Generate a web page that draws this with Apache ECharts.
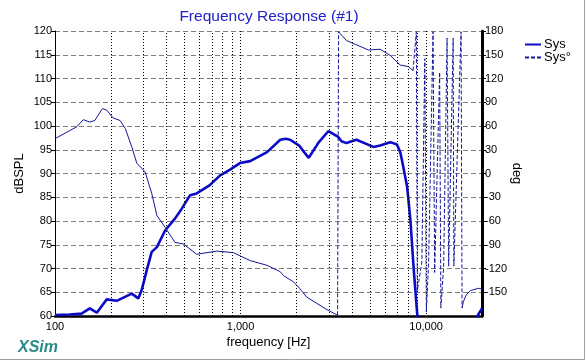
<!DOCTYPE html>
<html>
<head>
<meta charset="utf-8">
<script src="https://cdn.jsdelivr.net/npm/echarts@6/dist/echarts.min.js"></script>
<style>
html,body{margin:0;padding:0;background:#fff;}
#chart{width:587px;height:364px;}
</style>
</head>
<body>
<div id="chart"></div>
<script>
// ---- data ----
const magFreq = [100,120,139,154,168,190,215,259,281,293,312,332,354,392,443,482,534,580,680,776,878,992,1127,1389,1636,1750,1850,2078,2200,2330,2630,2970,3360,3500,3720,4210,5200,5650,6410,6960,7250,7410,7900,8230,8580,8950,9300,12000,17000,18900,20000];
const magDb   = [60.2,60.3,60.5,61.6,60.7,63.5,63.2,64.7,63.7,65.4,69.6,73.5,74.5,78.0,80.5,82.6,85.4,85.8,87.5,89.6,90.8,92.2,92.6,94.5,97.1,97.3,97.1,95.8,94.5,93.3,96.5,98.9,97.7,96.8,96.4,97.1,95.6,95.9,96.6,96.1,94.5,92.8,87.2,80.1,69.6,60.5,56,50,55,60,61.6];

const phaseFreq = [100,131,142,154,164,180,190,206,224,239,259,276,306,332,354,392,443,492,580,745,915,1127,1389,1636,1705,1930,2078,2270,2920,3332,3374,3720,4890,5650,6410,7250,8030,8499,8855,8966,9480,9840,10025,10315,10895,11115,11826,12004,12429,12966,13226,13985,14107,15425,15618,15872,16475,17313,19120,20000];
const phaseDeg  = [44,59,68,65,67,82,80,70,67,57,34,13,2,-25,-53,-68,-87,-89,-102,-98,-100,-110,-116,-124,-129,-137,-145,-156,-172,-179,179,168,156,157,149,137,135,130,179,-148,-112,145,-175,-112,179,-125,128,-170,-117,171,-117,171,-117,179,-170,-162,-153,-148,-145,-146];
// frequency bands (Hz) where the phase trace is drawn dashed (wraps / rapid rotation)
const dashedBands = [[3332,3374],[8499,15618]];

const dbTicks = {min:60, max:120, step:5};
const degTicks = {min:-180, max:180, step:30};
const minorFreqLines = [200,300,400,500,600,700,800,900,2000,3000,4000,5000,6000,7000,8000,9000];

// ---- build series data ----
const magData = magFreq.map((f,i)=>[f, magDb[i]]);
function inBand(a,b){ return dashedBands.some(r=>a>=r[0] && b<=r[1]); }
const solid = [], dashed = [];
for (let i=0;i<phaseFreq.length;i++){
  const p = [phaseFreq[i], phaseDeg[i]];
  solid.push(p);
  if (i < phaseFreq.length-1){
    const d = inBand(phaseFreq[i], phaseFreq[i+1]);
    if (d){
      solid.push([phaseFreq[i], null]);
      const last = dashed[dashed.length-1];
      if (!last || last[0]!==phaseFreq[i] || last[1]!==phaseDeg[i]){
        if (dashed.length) dashed.push([phaseFreq[i], null]);
        dashed.push(p);
      }
      dashed.push([phaseFreq[i+1], phaseDeg[i+1]]);
    }
  }
}

const FONT = 'Liberation Sans, Arial, sans-serif';
const chart = echarts.init(document.getElementById('chart'), null, {renderer:'canvas'});
const option = {
  animation: false,
  backgroundColor: '#fff',
  textStyle: {fontFamily: FONT},
  grid: {left:55, right:105, top:31, bottom:48},
  legend: {
    data: ['Sys','Sys°'],
    orient: 'vertical',
    left: 524, top: 38, padding: 0,
    itemWidth: 16, itemHeight: 10, itemGap: 0,
    itemStyle: {color:'rgba(0,0,0,0)', borderWidth:0, opacity:0},
    textStyle: {fontSize: 13, color:'#000', fontFamily: FONT, padding:[0,0,0,-2]},
    selectedMode: false
  },
  xAxis: {
    type: 'log', logBase: 10, min: 100, max: 20000,
    name: 'frequency [Hz]', nameLocation: 'middle', nameGap: 20, nameMoveOverlap: false,
    nameTextStyle: {fontSize: 13, color:'#000', fontFamily: FONT},
    axisLine: {show:true, onZero:false, lineStyle:{color:'#000', width:2.5}},
    axisTick: {show:false},
    axisLabel: {color:'#000', fontSize: 11, margin: 5, showMaxLabel:false,
      formatter: v => Number(v).toLocaleString('en-US')},
    splitLine: {show:true, lineStyle:{color:'#000', type:[1,2], width:1}},
    minorSplitLine: {show:false}
  },
  yAxis: [{
    type: 'value', min: dbTicks.min, max: dbTicks.max, interval: dbTicks.step,
    position: 'left',
    name: 'dBSPL', nameLocation: 'middle', nameGap: 29, nameMoveOverlap: false,
    nameTextStyle: {fontSize: 13, color:'#000', fontFamily: FONT},
    axisLine: {show:true, lineStyle:{color:'#000', width:1}},
    axisTick: {show:true, length:4, lineStyle:{color:'#000'}},
    axisLabel: {color:'#000', fontSize: 11, margin: 3},
    splitLine: {show:true, lineStyle:{color:'#808080', type:[5,3], width:1}}
  },{
    type: 'value', min: degTicks.min, max: degTicks.max, interval: degTicks.step,
    position: 'right',
    name: 'deg', nameLocation: 'middle', nameGap: 28, nameRotate: -90, nameMoveOverlap: false,
    nameTextStyle: {fontSize: 13, color:'#000', fontFamily: FONT},
    axisLine: {show:true, lineStyle:{color:'#000', width:3}},
    axisTick: {show:true, length:4, lineStyle:{color:'#000'}},
    axisLabel: {color:'#000', fontSize: 11, margin: 3, showMinLabel:false},
    splitLine: {show:false}
  }],
  series: [
    {
      name: 'gridlines', type: 'line', data: [], yAxisIndex: 0, silent: true,
      markLine: {
        silent: true, symbol: ['none','none'], label:{show:false},
        lineStyle: {color:'#000', type:[1,2], width:1},
        emphasis: {disabled:true},
        data: minorFreqLines.map(f=>({xAxis: f}))
      }
    },
    {
      name: 'Sys°', type: 'line', yAxisIndex: 1, data: dashed,
      symbol: 'none', showSymbol: false, connectNulls: false,
      lineStyle: {color:'#16169c', width:1, type:[4,2]},
      itemStyle: {color:'#16169c'}, z: 3
    },
    {
      name: 'Sys°', type: 'line', yAxisIndex: 1, data: solid,
      symbol: 'none', showSymbol: false, connectNulls: false,
      lineStyle: {color:'#16169c', width:1},
      itemStyle: {color:'#16169c'}, z: 3
    },
    {
      name: 'Sys', type: 'line', yAxisIndex: 0, data: magData,
      symbol: 'none', showSymbol: false, clip: true,
      lineStyle: {color:'#0a0ac8', width:2.6},
      itemStyle: {color:'#0a0ac8'}, z: 4
    }
  ],
  graphic: [
    {type:'text', x: 269, y: 17, silent:true,
      style:{text:'Frequency Response (#1)', fill:'#2020c8', font:'15.5px '+FONT, textAlign:'center', textVerticalAlign:'middle'}},
    {type:'text', x: 18, y: 348, silent:true,
      style:{text:'XSim', fill:'#2a8a8a', font:'italic bold 16px '+FONT, textAlign:'left', textVerticalAlign:'middle'}},
    {type:'line', silent:true, shape:{x1:0, y1:359.5, x2:584.5, y2:359.5}, style:{stroke:'#a0a0a0', lineWidth:1}},
    {type:'line', silent:true, shape:{x1:584.5, y1:0, x2:584.5, y2:359.5}, style:{stroke:'#a0a0a0', lineWidth:1}}
  ]
};
chart.setOption(option);
</script>
</body>
</html>
